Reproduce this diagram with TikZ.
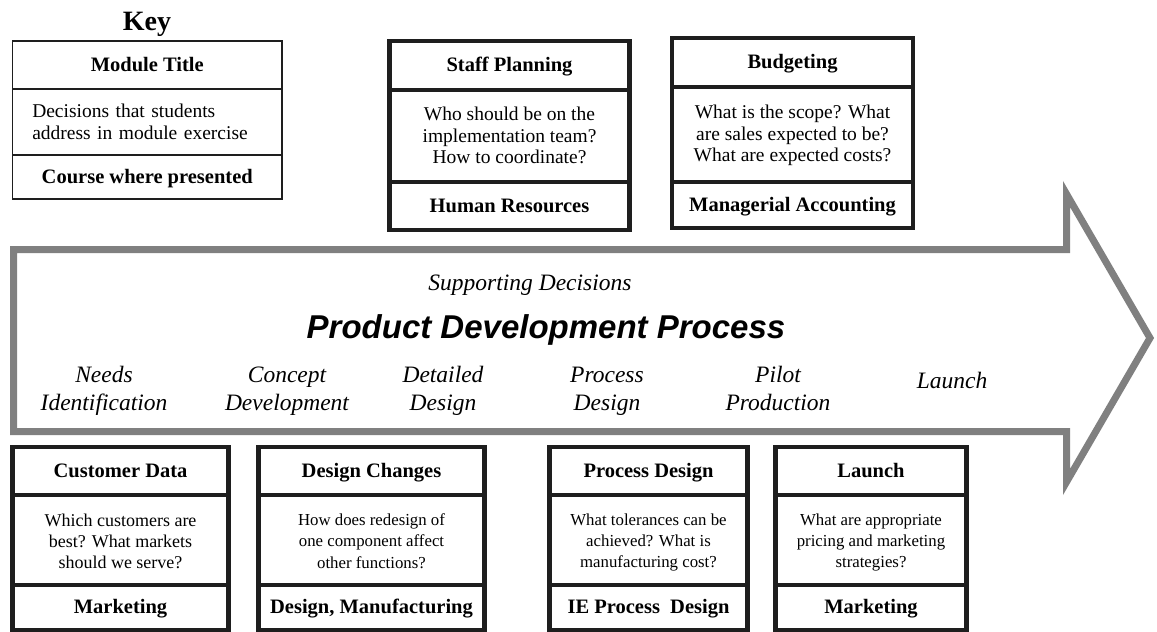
\documentclass[tikz,border=0pt]{standalone}
\usepackage{fontspec}
\setmainfont{Liberation Serif}
\newfontfamily\headfont{Liberation Sans}
\definecolor{boxc}{HTML}{1E1E1E}
\definecolor{bandc}{HTML}{808080}
\tikzset{
  band/.style={draw=boxc, line width=4.5pt, inner sep=0pt, align=center},
  keyband/.style={draw=boxc, line width=1.3pt, inner sep=0pt, align=center},
  ttl/.style={font=\fontsize{20.5}{22}\selectfont\bfseries, text height=15pt, text depth=3pt},
  txt/.style={execute at begin node=\strut, execute at end node=\strut},
  bodyL/.style={txt, font=\fontsize{19.5}{21.7}\selectfont},
  bodyM/.style={txt, font=\fontsize{18}{21}\selectfont},
  bodyS/.style={txt, font=\fontsize{16.8}{21.3}\selectfont},
  stage/.style={font=\fontsize{23.5}{28}\selectfont\itshape, align=center, inner sep=0pt},
  arrowband/.style={draw=bandc, line width=7pt, line join=miter}
}
\begin{document}
\begin{tikzpicture}[x=1pt,y=-1pt]
\useasboundingbox[fill=white] (0,0) rectangle (1157,632);

% big process arrow
\draw[arrowband] (13.5,249.5) -- (1066.5,249.5) -- (1066.5,194) -- (1150,338)
  -- (1066.5,482) -- (1066.5,431.5) -- (13.5,431.5) -- cycle;

% key
\node[font=\fontsize{28}{30}\selectfont\bfseries, anchor=base, inner sep=0pt] (key) at (147,30) {Key};
\node[keyband, ttl, minimum width=269.5pt, minimum height=48pt] (key-t) at (147.25,65) {Module Title};
\node[keyband, minimum width=269.5pt, minimum height=66pt] (key-b) at (147.25,122) {};
\node[bodyL, align=left, text width=230pt, inner sep=0pt] (key-btext) at (147.25,124) {Decisions that students\\address in module exercise};
\node[keyband, ttl, minimum width=269.5pt, minimum height=44pt] (key-c) at (147.25,177) {Course where presented};

% staff planning
\node[band, ttl, minimum width=240pt, minimum height=49pt] (sp-t) at (509.5,65.5) {Staff Planning};
\node[band, minimum width=240pt, minimum height=92pt] (sp-b) at (509.5,136) {};
\node[bodyL, align=center, inner sep=0pt] (sp-btext) at (509.5,138.5) {Who should be on the\\implementation team?\\How to coordinate?};
\node[band, ttl, minimum width=240pt, minimum height=48pt] (sp-c) at (509.5,206) {Human Resources};

% budgeting
\node[band, ttl, minimum width=241pt, minimum height=49pt] (bu-t) at (792.5,62.5) {Budgeting};
\node[band, minimum width=241pt, minimum height=95pt] (bu-b) at (792.5,134.5) {};
\node[bodyL, align=center, inner sep=0pt] (bu-btext) at (792.5,136.5) {What is the scope? What\\are sales expected to be?\\What are expected costs?};
\node[band, ttl, minimum width=241pt, minimum height=46pt] (bu-c) at (792.5,205) {Managerial Accounting};

% centre texts
\node[font=\fontsize{23.5}{28}\selectfont\itshape, anchor=base, inner sep=0pt] (supp) at (530,290) {Supporting Decisions};
\node[font=\headfont\fontsize{33}{36}\selectfont\bfseries\itshape, anchor=base, inner sep=0pt] (pdp) at (546,338) {Product Development Process};

\node[stage] (s1) at (104,390.4) {\strut Needs\\\strut Identification};
\node[stage] (s2) at (287,390.4) {\strut Concept\\\strut Development};
\node[stage] (s3) at (443,390.4) {\strut Detailed\\\strut Design};
\node[stage] (s4) at (607,390.4) {\strut Process\\\strut Design};
\node[stage] (s5) at (778,390.4) {\strut Pilot\\\strut Production};
\node[stage, anchor=base] (s6) at (952,388) {Launch};

% customer data
\node[band, ttl, minimum width=216pt, minimum height=48pt] (cd-t) at (120.5,471) {Customer Data};
\node[band, minimum width=216pt, minimum height=90pt] (cd-b) at (120.5,540) {};
\node[bodyM, align=center, inner sep=0pt] (cd-btext) at (120.5,544) {Which customers are\\best? What markets\\should we serve?};
\node[band, ttl, minimum width=216pt, minimum height=45pt] (cd-c) at (120.5,607.5) {Marketing};

% design changes
\node[band, ttl, minimum width=226pt, minimum height=48pt] (dc-t) at (371.5,471) {Design Changes};
\node[band, minimum width=226pt, minimum height=90pt] (dc-b) at (371.5,540) {};
\node[bodyS, align=center, inner sep=0pt] (dc-btext) at (371.5,544) {How does redesign of\\one component affect\\other functions?};
\node[band, ttl, minimum width=226pt, minimum height=45pt] (dc-c) at (371.5,607.5) {Design, Manufacturing};

% process design
\node[band, ttl, minimum width=198pt, minimum height=48pt] (pd-t) at (648.5,471) {Process Design};
\node[band, minimum width=198pt, minimum height=90pt] (pd-b) at (648.5,540) {};
\node[bodyS, align=center, inner sep=0pt] (pd-btext) at (648.5,544) {What tolerances can be\\achieved? What is\\manufacturing cost?};
\node[band, ttl, minimum width=198pt, minimum height=45pt] (pd-c) at (648.5,607.5) {IE Process\ \ Design};

% launch
\node[band, ttl, minimum width=191pt, minimum height=48pt] (la-t) at (871,471) {Launch};
\node[band, minimum width=191pt, minimum height=90pt] (la-b) at (871,540) {};
\node[bodyS, align=center, inner sep=0pt] (la-btext) at (871,544) {What are appropriate\\pricing and marketing\\strategies?};
\node[band, ttl, minimum width=191pt, minimum height=45pt] (la-c) at (871,607.5) {Marketing};
\end{tikzpicture}
\end{document}
